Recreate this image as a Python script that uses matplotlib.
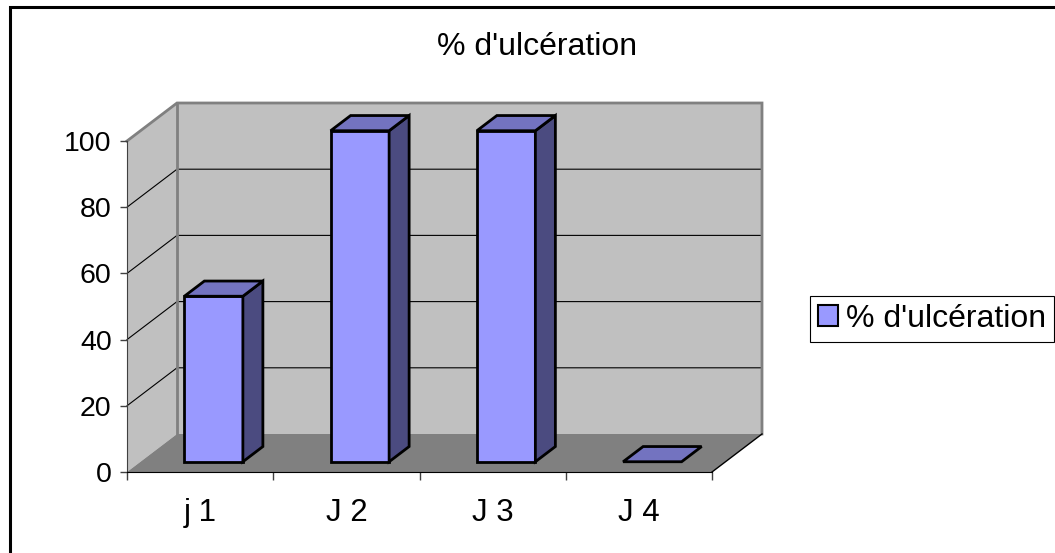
import matplotlib.pyplot as plt
from matplotlib.patches import Polygon, Rectangle, Patch

plt.rcParams['font.family'] = ['Liberation Sans', 'DejaVu Sans']

categories = ['j 1', 'J 2', 'J 3', 'J 4']
values = [50, 100, 100, 0]
series_name = "% d'ulcération"
y_ticks = [0, 20, 40, 60, 80, 100]

W, H = 1055, 553
fig = plt.figure(figsize=(W / 100, H / 100), dpi=100)

# front plane of the pseudo 3d box, in pixels
left, right, bottom, top = 127, 712, 472, 141
ax = fig.add_axes([left / W, 1 - bottom / H, (right - left) / W, (bottom - top) / H])
ax.set_xlim(0, len(categories))
ax.set_ylim(0, 100)
ax.patch.set_alpha(0)

# depth offset (pixels -> data units)
DX = 50 / ((right - left) / len(categories))
DY = 38 / ((bottom - top) / 100)
NX = len(categories)


def pt(x, v, d):
    return (x + d * DX, v + d * DY)


def poly(points, fc, ec='none', lw=0, z=1):
    p = Polygon(points, closed=True, facecolor=fc, edgecolor=ec, linewidth=lw,
                zorder=z, clip_on=False, joinstyle='miter')
    ax.add_patch(p)


# walls and floor
wall = '#c0c0c0'
poly([pt(0, 0, 1), pt(NX, 0, 1), pt(NX, 100, 1), pt(0, 100, 1)], wall, z=0.5)
poly([pt(0, 0, 0), pt(0, 0, 1), pt(0, 100, 1), pt(0, 100, 0)], wall, z=0.5)
poly([pt(0, 0, 0), pt(NX, 0, 0), pt(NX, 0, 1), pt(0, 0, 1)], '#808080', z=0.6)

# gridlines on side and back walls
for v in y_ticks[1:-1]:
    xs, ys = zip(pt(0, v, 0), pt(0, v, 1), pt(NX, v, 1))
    ax.plot(xs, ys, color='black', lw=0.8, zorder=0.7, clip_on=False)

# wall borders
for seg in [[pt(0, 100, 0), pt(0, 100, 1), pt(NX, 100, 1), pt(NX, 0, 1)],
            [pt(0, 0, 1), pt(0, 100, 1)]]:
    xs, ys = zip(*seg)
    ax.plot(xs, ys, color='#808080', lw=2, zorder=0.8, clip_on=False,
            solid_joinstyle='miter')
xs, ys = zip(pt(NX, 0, 0), pt(NX, 0, 1))
ax.plot(xs, ys, color='black', lw=1, zorder=0.8, clip_on=False)

# bars
d0, d1 = 0.27, 0.67
half = 0.2
for i, v in enumerate(values):
    x0, x1 = i + 0.5 - half, i + 0.5 + half
    if v > 0:
        poly([pt(x0, 0, d0), pt(x1, 0, d0), pt(x1, v, d0), pt(x0, v, d0)],
             '#9999ff', 'black', 2, z=3)
        poly([pt(x1, 0, d0), pt(x1, 0, d1), pt(x1, v, d1), pt(x1, v, d0)],
             '#4b4b80', 'black', 2, z=3)
    poly([pt(x0, v, d0), pt(x1, v, d0), pt(x1, v, d1), pt(x0, v, d1)],
         '#7373c0', 'black', 2, z=3)

# axes
for s in ['top', 'right']:
    ax.spines[s].set_visible(False)
ax.spines['left'].set_color('#404040')
ax.spines['bottom'].set_color('black')
ax.spines['left'].set_zorder(4)
ax.spines['bottom'].set_zorder(4)

ax.set_yticks(y_ticks)
ax.tick_params(axis='y', length=5, width=1, pad=6, labelsize=20.5, color='#404040')
ax.set_xticks([i + 0.5 for i in range(NX)], labels=categories)
ax.set_xticks(range(NX + 1), minor=True)
ax.tick_params(axis='x', which='major', length=0, pad=19, labelsize=22.5)
ax.tick_params(axis='x', which='minor', length=6, width=1, color='#404040')

# title
fig.text(537 / W, 1 - 55 / H, series_name, ha='center', va='baseline', fontsize=23)

# legend
handle = Patch(facecolor='#9999ff', edgecolor='black', linewidth=1.5)
leg = fig.legend([handle], [series_name], loc='center left',
                 bbox_to_anchor=(810 / W, 1 - 319 / H), fontsize=23,
                 handlelength=0.62, handleheight=0.62, handletextpad=0.26,
                 borderpad=0.25, fancybox=False, framealpha=1,
                 edgecolor='black', borderaxespad=0)
leg.get_frame().set_linewidth(0.8)

# outer chart border (runs off the right and bottom edges)
fig.patches.append(Rectangle((9.5 / W, -0.05), 1.1, 1 - 7.5 / H + 0.05,
                             transform=fig.transFigure, fill=False,
                             edgecolor='black', linewidth=2.2))

fig.savefig('out.png', dpi=100)
